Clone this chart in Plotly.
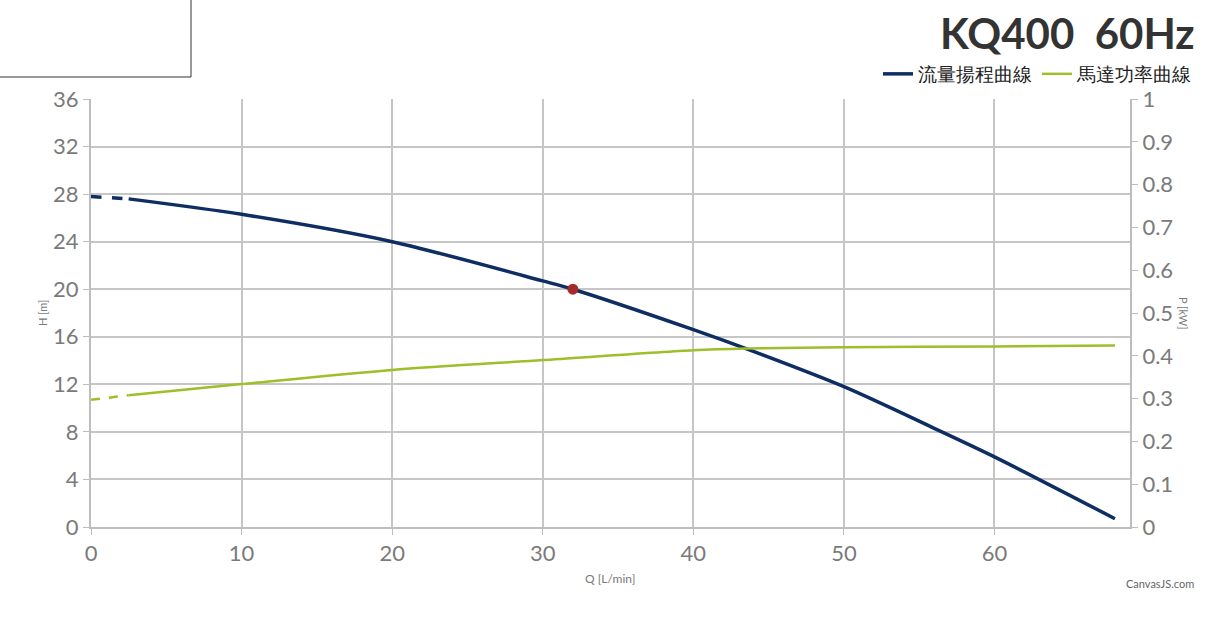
import plotly.graph_objects as go

# ---- data ----
q_head = [0, 2.5, 10, 20, 30, 32, 40, 43.5, 50, 56, 60, 68]
h_head = [27.8, 27.6, 26.3, 24.0, 20.7, 20.0, 16.6, 15.0, 11.8, 8.3, 5.9, 0.7]
q_power = [0, 2.5, 10, 20, 30, 40, 43.5, 50, 60, 68]
p_power = [0.297, 0.308, 0.334, 0.367, 0.390, 0.413, 0.417, 0.420, 0.422, 0.424]
dash_until = 1  # index where dashed part ends
duty_q = [32]
duty_h = [20]
x_ticks = [0, 10, 20, 30, 40, 50, 60]
title_text = "KQ400  60Hz"
names = ["流量揚程曲線", "馬達功率曲線"]

# ---- layout constants ----
W, H = 1216, 618
L, R, T, B = 91, 86, 99, 91
PW, PH = W - L - R, H - T - B
def px(x):
    return (x - L) / PW
def py(y):
    return (H - B - y) / PH

BLUE = "#0e2d63"
GREEN = "#9cbf2a"
FONT = "Lato, 'Open Sans', sans-serif"
GRAY = "#7a7a7a"

fig = go.Figure()
# head curve
fig.add_trace(go.Scatter(x=q_head[:dash_until + 1], y=h_head[:dash_until + 1], mode="lines",
                         line=dict(color=BLUE, width=3.5, dash="dash", shape="spline"),
                         showlegend=False, hoverinfo="skip"))
fig.add_trace(go.Scatter(x=q_head[dash_until:], y=h_head[dash_until:], mode="lines",
                         line=dict(color=BLUE, width=3.5, shape="spline", smoothing=0.8),
                         name=names[0]))
# power curve
fig.add_trace(go.Scatter(x=q_power[:dash_until + 1], y=p_power[:dash_until + 1], mode="lines",
                         line=dict(color=GREEN, width=2.5, dash="dash", shape="spline"),
                         showlegend=False, yaxis="y2", hoverinfo="skip"))
fig.add_trace(go.Scatter(x=q_power[dash_until:], y=p_power[dash_until:], mode="lines",
                         line=dict(color=GREEN, width=2.5, shape="spline", smoothing=0.8),
                         name=names[1], yaxis="y2"))
# duty point
fig.add_trace(go.Scatter(x=duty_q, y=duty_h, mode="markers",
                         marker=dict(color="#a52a2a", size=11), showlegend=False))

axis_common = dict(showline=True, linecolor="#bdbdbd", linewidth=2, ticks="outside",
                   ticklen=6, tickcolor="#bdbdbd", tickwidth=1,
                   tickfont=dict(family=FONT, size=22, color=GRAY), zeroline=False)

fig.update_layout(
    width=W, height=H,
    margin=dict(l=L, r=R, t=T, b=B),
    plot_bgcolor="white", paper_bgcolor="white",
    font=dict(family=FONT),
    xaxis=dict(range=[0, 69], tickvals=x_ticks, showgrid=True, gridcolor="#c6c6c6",
               gridwidth=2, **axis_common),
    yaxis=dict(range=[0, 36], dtick=4, showgrid=True, gridcolor="#c6c6c6", gridwidth=2,
               **axis_common),
    yaxis2=dict(range=[0, 1], dtick=0.1, overlaying="y", side="right", showgrid=False,
                **axis_common),
    legend=dict(orientation="h", x=px(1197), xanchor="right", y=py(74), yanchor="middle",
                font=dict(family=FONT, size=19, color="#222"), bgcolor="rgba(0,0,0,0)",
                itemwidth=30, tracegroupgap=0),
    showlegend=True,
)

fig.add_annotation(text=title_text, x=px(1197), xanchor="right", y=py(33), yanchor="middle",
                   xref="paper", yref="paper", showarrow=False,
                   font=dict(family=FONT, size=42, color="#333333", weight="bold"))
fig.add_annotation(text="H [m]", x=px(42), xanchor="center", y=0.5, yanchor="middle",
                   xref="paper", yref="paper", showarrow=False,
                   textangle=-90, font=dict(family=FONT, size=11, color=GRAY))
fig.add_annotation(text="P [kW]", x=px(1184), xanchor="center", y=0.5, yanchor="middle",
                   xref="paper", yref="paper", showarrow=False,
                   textangle=90, font=dict(family=FONT, size=11, color=GRAY))
fig.add_annotation(text="Q [L/min]", x=px(610), xanchor="center", y=py(578), yanchor="middle",
                   xref="paper", yref="paper",
                   showarrow=False, font=dict(family=FONT, size=12, color=GRAY))
fig.add_annotation(text="CanvasJS.com", x=px(1196), xanchor="right", y=py(592), xref="paper",
                   yref="paper", showarrow=False, font=dict(family=FONT, size=11, color="#666"))

fig.add_shape(type="rect", xref="paper", yref="paper", x0=px(-3), x1=px(191), y0=py(77), y1=py(-3),
              line=dict(color="#333333", width=1), fillcolor="rgba(0,0,0,0)")

fig.write_html("out.html")
